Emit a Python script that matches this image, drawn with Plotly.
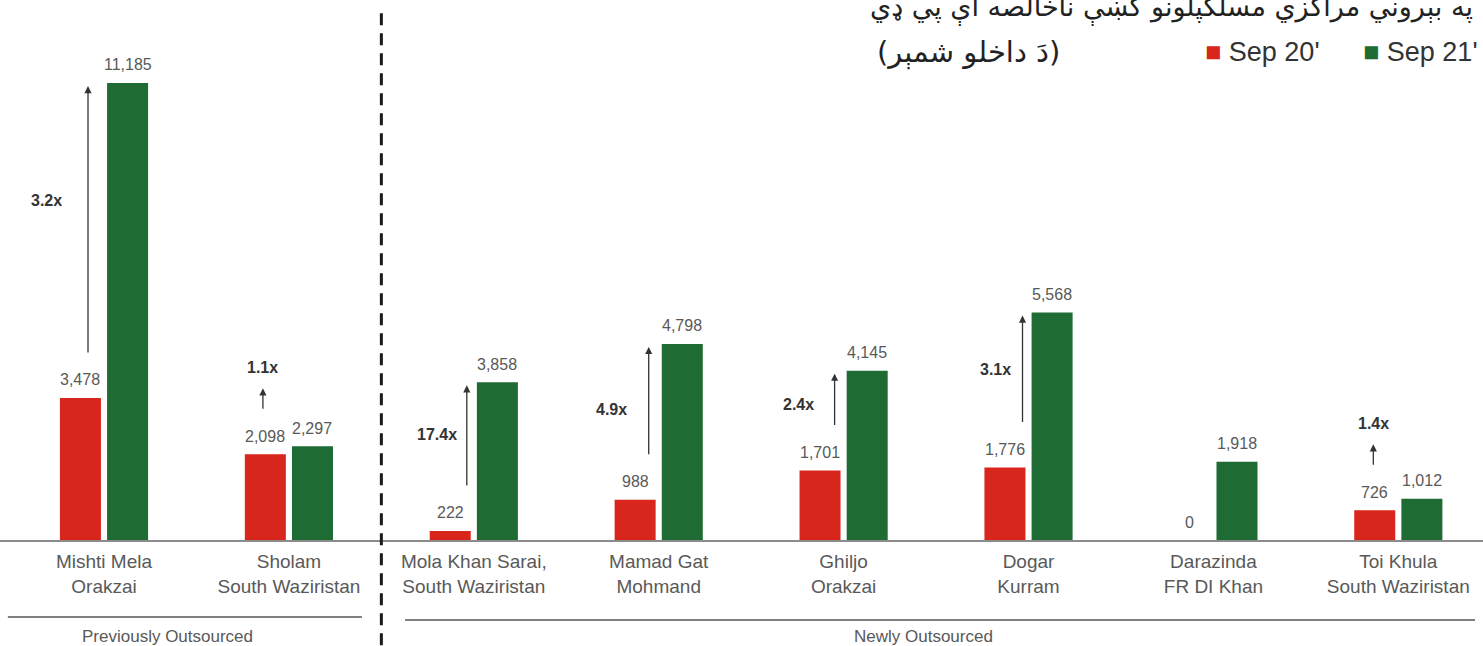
import plotly.graph_objects as go

# ---------------- data ----------------
categories = [
    "Mishti Mela<br>Orakzai",
    "Sholam<br>South Waziristan",
    "Mola Khan Sarai,<br>South Waziristan",
    "Mamad Gat<br>Mohmand",
    "Ghiljo<br>Orakzai",
    "Dogar<br>Kurram",
    "Darazinda<br>FR DI Khan",
    "Toi Khula<br>South Waziristan",
]
sep20 = [3478, 2098, 222, 988, 1701, 1776, 0, 726]
sep21 = [11185, 2297, 3858, 4798, 4145, 5568, 1918, 1012]
growth = ["3.2x", "1.1x", "17.4x", "4.9x", "2.4x", "3.1x", "", "1.4x"]
series_names = ["Sep 20'", "Sep 21'"]
group_names = ["Previously Outsourced", "Newly Outsourced"]
title_line1 = "په بېروني مراکزي مسلکپلونو کښې ناخالصه اې پي ډي"
title_line2 = "(دَ داخلو شمېر)"

# ---------------- style ----------------
RED = "#D8261C"
GREEN = "#1E6B34"
GREY_TXT = "#595959"
DARK = "#333333"
FONT = "Liberation Sans, Arial, sans-serif"
W, H = 1483, 646
MARGIN_B = 106
XR = [-0.5625, 7.458]
YR = [0, 13216]
BARGAP = 0.49
BARGROUPGAP = 0.13
px_per_cat = W / (XR[1] - XR[0])
bar_off = (1 - BARGAP) / 4 * px_per_cat  # px from category centre to bar centre

# arrow styling per category: mode, x offset (px), label gap (px)
arrow_mode = ["long", "short", "long", "long", "long", "long", None, "short"]
arrow_dx = [-16, -26, -7, -10, -9, -6, 0, -25]
label_gap = [24, 0, 8, 20, 19, 10, 0, 0]
label_dy = [40, 0, 22, 12, 16, 20, 0, 0]

fig = go.Figure()
fig.add_trace(go.Bar(x=categories, y=sep20, name=series_names[0],
                     marker=dict(color=RED, line=dict(width=0))))
fig.add_trace(go.Bar(x=categories, y=sep21, name=series_names[1],
                     marker=dict(color=GREEN, line=dict(width=0))))

ann = []
# value labels
for c, v20, v21 in zip(categories, sep20, sep21):
    for v, sh in ((v20, -bar_off), (v21, bar_off)):
        ann.append(dict(x=c, y=v, xref="x", yref="y", text=f"{v:,}", showarrow=False,
                        xshift=sh, yshift=18, yanchor="middle",
                        font=dict(size=16, color=GREY_TXT, family=FONT)))

# growth arrows and labels
for i, c in enumerate(categories):
    mode = arrow_mode[i]
    if mode is None:
        continue
    if mode == "long":
        ann.append(dict(x=c, y=sep21[i], ax=c, ay=sep20[i], xref="x", yref="y",
                        axref="x", ayref="y", text="", showarrow=True,
                        arrowhead=2, arrowsize=1.1, arrowwidth=1.3, arrowcolor=DARK,
                        standoff=3, startstandoff=44, xshift=arrow_dx[i]))
        ann.append(dict(x=c, y=(sep20[i] + sep21[i]) / 2, xref="x", yref="y",
                        text=f"<b>{growth[i]}</b>", showarrow=False,
                        xanchor="right", yanchor="middle",
                        xshift=arrow_dx[i] - label_gap[i], yshift=label_dy[i],
                        font=dict(size=16, color=DARK, family=FONT)))
    else:
        ann.append(dict(x=c, y=sep20[i], xref="x", yref="y",
                        axref="pixel", ayref="pixel", ax=0, ay=22, text="",
                        showarrow=True, arrowhead=2, arrowsize=1.1, arrowwidth=1.3,
                        arrowcolor=DARK, xshift=arrow_dx[i], yshift=66))
        ann.append(dict(x=c, y=sep20[i], xref="x", yref="y",
                        text=f"<b>{growth[i]}</b>", showarrow=False,
                        yanchor="middle", xshift=arrow_dx[i], yshift=87,
                        font=dict(size=16, color=DARK, family=FONT)))

# group labels
ann.append(dict(x=0.346, y=-0.178, xref="x", yref="paper", text=group_names[0],
                showarrow=False, yanchor="middle",
                font=dict(size=17, color=GREY_TXT, family=FONT)))
ann.append(dict(x=4.43, y=-0.178, xref="x", yref="paper", text=group_names[1],
                showarrow=False, yanchor="middle",
                font=dict(size=17, color=GREY_TXT, family=FONT)))

# titles
ann.append(dict(x=0.9946, y=(540 - 8) / 540, xref="paper", yref="paper", text=title_line1,
                showarrow=False, xanchor="right", yanchor="middle",
                font=dict(size=27, color="#222222", family="DejaVu Sans, sans-serif")))
ann.append(dict(x=1062 / W, y=(540 - 52) / 540, xref="paper", yref="paper", text=title_line2,
                showarrow=False, xanchor="right", yanchor="middle",
                font=dict(size=29, color="#222222", family="DejaVu Sans, sans-serif")))

# legend (drawn as text with coloured squares)
legend_right = [1322, 1480]
for name, col, xr in zip(series_names, [RED, GREEN], legend_right):
    ann.append(dict(x=xr / W, y=(540 - 52) / 540, xref="paper", yref="paper",
                    text=f"<span style='color:{col}'>■</span> {name}",
                    showarrow=False, xanchor="right", yanchor="middle",
                    font=dict(size=27, color="#333333", family=FONT)))

shapes = [
    dict(type="line", xref="x", yref="paper", x0=1.5, x1=1.5, y0=-0.195, y1=0.985,
         line=dict(color="#1a1a1a", width=3, dash="12px,8px")),
    dict(type="line", xref="x", yref="paper", x0=-0.52, x1=1.395, y0=-0.1426, y1=-0.1426,
         line=dict(color="#7f7f7f", width=2)),
    dict(type="line", xref="x", yref="paper", x0=1.628, x1=7.415, y0=-0.148, y1=-0.148,
         line=dict(color="#7f7f7f", width=2)),
]

fig.update_layout(
    width=W, height=H,
    margin=dict(l=0, r=0, t=0, b=MARGIN_B),
    paper_bgcolor="white", plot_bgcolor="white",
    barmode="group", bargap=BARGAP, bargroupgap=BARGROUPGAP,
    font=dict(family=FONT, color=GREY_TXT),
    showlegend=False,
    annotations=ann,
    shapes=shapes,
    xaxis=dict(range=XR, showline=True, linecolor="#8c8c8c", linewidth=2,
               showgrid=False, zeroline=False, ticks="", ticklabelstandoff=3,
               tickfont=dict(size=19, color=GREY_TXT, family=FONT), fixedrange=True),
    yaxis=dict(range=YR, visible=False, showgrid=False, zeroline=False, fixedrange=True),
)

fig.write_html("out.html", config={"displayModeBar": False},
               post_script="document.body.style.margin='0';document.body.style.overflow='hidden';")
